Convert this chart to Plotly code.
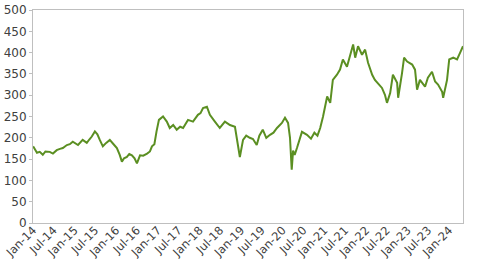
import plotly.graph_objects as go

dates = [
    "2014-01-02", "2014-01-20", "2014-02-05", "2014-03-01", "2014-03-28", "2014-04-20",
    "2014-05-28", "2014-06-25", "2014-07-28", "2014-08-25", "2014-09-20", "2014-10-25",
    "2014-11-20", "2014-12-16", "2015-01-10", "2015-01-31", "2015-03-13", "2015-04-18",
    "2015-05-10", "2015-06-01", "2015-06-28", "2015-07-20", "2015-08-10", "2015-09-06",
    "2015-10-05", "2015-11-06", "2015-12-05", "2016-01-07", "2016-02-01", "2016-02-20",
    "2016-03-10", "2016-04-04", "2016-04-25", "2016-05-18", "2016-06-10", "2016-07-01",
    "2016-07-28", "2016-08-25", "2016-09-28", "2016-10-23", "2016-11-10", "2016-12-01",
    "2016-12-20", "2017-01-10", "2017-02-15", "2017-03-20", "2017-04-15", "2017-05-15",
    "2017-06-15", "2017-07-15", "2017-08-10", "2017-09-22", "2017-11-05", "2017-12-18",
    "2018-01-10", "2018-02-01", "2018-03-07", "2018-04-02", "2018-05-16", "2018-06-28",
    "2018-08-12", "2018-09-25", "2018-11-08", "2018-12-04", "2018-12-21", "2019-01-18",
    "2019-02-15", "2019-03-18", "2019-04-15", "2019-05-18", "2019-06-10", "2019-07-10",
    "2019-08-10", "2019-09-12", "2019-10-12", "2019-11-12", "2019-12-25", "2020-01-21",
    "2020-02-17", "2020-03-05", "2020-03-20", "2020-04-01", "2020-04-15", "2020-05-05",
    "2020-06-18", "2020-08-01", "2020-09-05", "2020-10-05", "2020-11-01", "2020-11-25",
    "2020-12-20", "2021-01-25", "2021-02-21", "2021-03-16", "2021-04-21", "2021-05-18",
    "2021-06-12", "2021-07-18", "2021-08-15", "2021-09-10", "2021-09-28", "2021-10-23",
    "2021-11-27", "2021-12-24", "2022-01-19", "2022-02-24", "2022-03-20", "2022-04-15",
    "2022-05-21", "2022-06-16", "2022-07-04", "2022-08-01", "2022-08-25", "2022-10-01",
    "2022-10-10", "2022-11-13", "2022-12-01", "2022-12-28", "2023-02-10", "2023-03-07",
    "2023-03-25", "2023-04-19", "2023-06-03", "2023-06-28", "2023-08-03", "2023-08-30",
    "2023-09-25", "2023-10-31", "2023-11-09", "2023-12-13", "2024-01-01", "2024-02-05",
    "2024-03-10", "2024-04-06", "2024-05-01",
]
prices = [
    180, 172, 165, 167, 160, 168,
    167, 163, 171, 174, 176, 183,
    185, 191, 187, 183, 195, 188,
    196, 203, 215, 208, 195, 180,
    188, 195, 186, 176, 160, 144,
    152, 155, 162, 159, 152, 140,
    159, 158, 163, 168, 180, 185,
    215, 242, 250, 238, 223, 230,
    219, 226, 223, 242, 238, 254,
    258, 270, 273, 254, 238, 223,
    238, 230, 226, 188, 155, 195,
    205, 200, 197, 183, 205, 219,
    200, 207, 212, 223, 235, 247,
    235, 200, 125, 170, 160, 176,
    214, 207, 198, 212, 205, 223,
    250, 297, 282, 336, 348, 360,
    384, 367, 391, 419, 388, 415,
    395, 407, 376, 348, 336, 329,
    317, 301, 282, 305, 348, 329,
    294, 352, 388, 379, 372, 360,
    313, 336, 320, 341, 355, 332,
    325, 308, 294, 336, 384, 388,
    384, 400, 415,
]
y_ticks = list(range(0, 501, 50))

fig = go.Figure()
fig.add_trace(go.Scatter(
    x=dates, y=prices, mode="lines",
    line=dict(color="#5b8f22", width=2),
    hoverinfo="skip", showlegend=False,
))

fig.update_layout(
    width=478, height=262,
    margin=dict(l=33, r=15, t=10, b=39),
    paper_bgcolor="white", plot_bgcolor="white",
    font=dict(family="DejaVu Sans", color="#404040"),
)
fig.update_xaxes(
    type="date", automargin=False,
    range=["2014-01-01", "2024-05-01"],
    tick0="2014-01-01", dtick="M6", tickformat="%b-%y",
    tickangle=-45, tickfont=dict(size=11.5),
    ticklabelstandoff=-5,
    showgrid=False, zeroline=False,
    showline=True, linecolor="#bfbfbf", linewidth=1, mirror=True,
    ticks="",
)
fig.update_yaxes(
    automargin=False,
    range=[0, 500], tickvals=y_ticks,
    tickfont=dict(size=12),
    showgrid=False, zeroline=False,
    showline=True, linecolor="#bfbfbf", linewidth=1, mirror=True,
    ticks="outside", ticklen=3, tickcolor="#bfbfbf",
)

fig.write_html("out.html")
